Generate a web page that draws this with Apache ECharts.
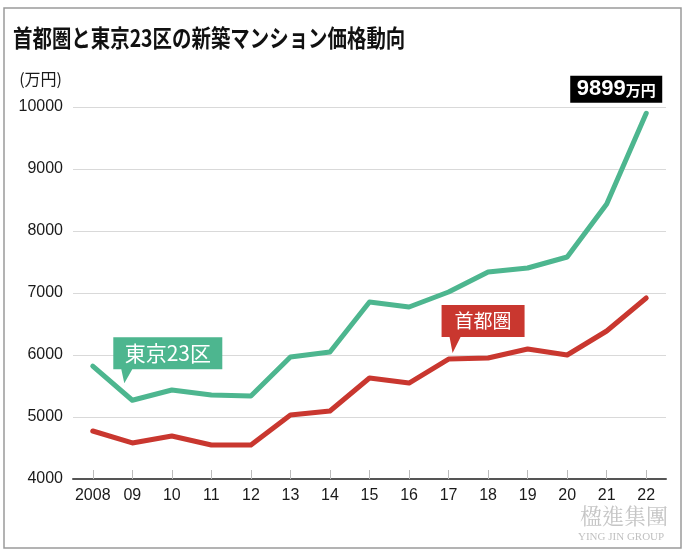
<!DOCTYPE html>
<html><head><meta charset="utf-8">
<script src="https://cdn.jsdelivr.net/npm/echarts@6/dist/echarts.min.js"></script>
<style>html,body{margin:0;padding:0;background:#fff}#c{width:688px;height:556px}</style>
</head><body><div id="c"></div>
<script>
const years = ['2008','09','10','11','12','13','14','15','16','17','18','19','20','21','22'];
const tokyo23 = [5820,5270,5435,5355,5340,5968,6048,6855,6774,7016,7339,7403,7581,8435,9899];
const shutoken = [4774,4581,4694,4548,4548,5032,5097,5629,5548,5935,5952,6097,6000,6387,6919];
const yTicks = [4000,5000,6000,7000,8000,9000,10000];
const titleText = '首都圏と東京23区の新築マンション価格動向';
const unitText = '(万円)';
const greenName = '東京23区';
const redName = '首都圏';

const GREEN = '#4db68f';
const RED = '#c9372f';
const FONT = '"Noto Sans CJK JP", "Liberation Sans", sans-serif';
const NUMFONT = '"Liberation Sans", sans-serif';

const chart = echarts.init(document.getElementById('c'));
chart.setOption({
  animation: false,
  backgroundColor: '#fff',
  graphic: [
    {type: 'rect', shape: {x: 4, y: 8, width: 677, height: 540}, style: {fill: 'none', stroke: '#9a9a9a', lineWidth: 1.5}, silent: true},
    {type: 'text', x: 13, y: 26, scaleX: 0.81, style: {text: titleText, fill: '#111', font: 'bold 24px "Noto Sans CJK JP", sans-serif'}},
    {type: 'text', left: 580, top: 505, style: {text: '楹進集團', fill: 'rgba(150,150,150,0.55)', font: '22px "Noto Serif CJK TC", "Noto Sans CJK TC", serif'}},
    {type: 'text', left: 578, top: 532, style: {text: 'YING JIN GROUP', fill: 'rgba(150,150,150,0.6)', font: '11px "Liberation Serif", serif'}}
  ],
  grid: {left: 73, right: 22, top: 107, bottom: 77},
  xAxis: {
    type: 'category', data: years, boundaryGap: true,
    axisLine: {lineStyle: {color: '#555', width: 2}},
    axisTick: {show: true, alignWithLabel: true, inside: true, length: 9, lineStyle: {color: '#bbb', width: 1}},
    axisLabel: {color: '#1a1a1a', fontSize: 16, margin: 9, fontFamily: NUMFONT, interval: 0}
  },
  yAxis: {
    type: 'value', min: yTicks[0], max: yTicks[yTicks.length-1], interval: 1000,
    name: unitText, nameLocation: 'end', nameGap: 20,
    nameTextStyle: {color: '#1a1a1a', fontSize: 16, align: 'right', padding: [0, 11, 0, 0], fontFamily: FONT},
    axisLine: {show: false}, axisTick: {show: false},
    axisLabel: {color: '#1a1a1a', fontSize: 16, margin: 10, fontFamily: NUMFONT, formatter: v => String(v)},
    splitLine: {lineStyle: {color: '#d9d9d9', width: 1.2}}
  },
  series: [
    {
      name: redName, type: 'line', data: shutoken, symbol: 'none',
      lineStyle: {color: RED, width: 5, join: 'round', cap: 'round'},
      itemStyle: {color: RED},
      markPoint: {
        symbol: 'path://M0 0 H83 V32 H19 L11 48 L8 32 H0 Z',
        symbolSize: [83, 48], symbolOffset: [34.5, -30], symbolKeepAspect: false,
        itemStyle: {color: RED},
        label: {show: true, position: 'inside', offset: [0, -8], color: '#fff', fontSize: 19, fontFamily: FONT,
                formatter: () => redName},
        data: [{coord: [9, shutoken[9]]}]
      }
    },
    {
      name: greenName, type: 'line', data: tokyo23, symbol: 'none',
      lineStyle: {color: GREEN, width: 5, join: 'round', cap: 'round'},
      itemStyle: {color: GREEN},
      markPoint: {
        symbolKeepAspect: false,
        data: [
          {coord: [1, tokyo23[1]],
           symbol: 'path://M0 0 H109 V32 H8 L11 46 L19 32 H0 Z',
           symbolSize: [109, 46], symbolOffset: [35.5, -40],
           itemStyle: {color: GREEN},
           label: {show: true, position: 'inside', offset: [0, -7], color: '#fff', fontSize: 21, fontFamily: FONT,
                   formatter: () => greenName}},
          {coord: [14, tokyo23[14]],
           symbol: 'rect', symbolSize: [92, 27], symbolOffset: [-30, -24],
           itemStyle: {color: '#000'},
           label: {show: true, position: 'inside', offset: [0, 0],
                   formatter: () => '{a|' + tokyo23[14] + '}{b|万円}',
                   rich: {
                     a: {color: '#fff', fontSize: 22, fontWeight: 'bold', fontFamily: '"Liberation Sans Narrow", "Liberation Sans", sans-serif'},
                     b: {color: '#fff', fontSize: 15, fontWeight: 'bold', fontFamily: FONT, padding: [3, 0, 0, 0]}
                   }}}
        ]
      }
    }
  ]
});
</script></body></html>
